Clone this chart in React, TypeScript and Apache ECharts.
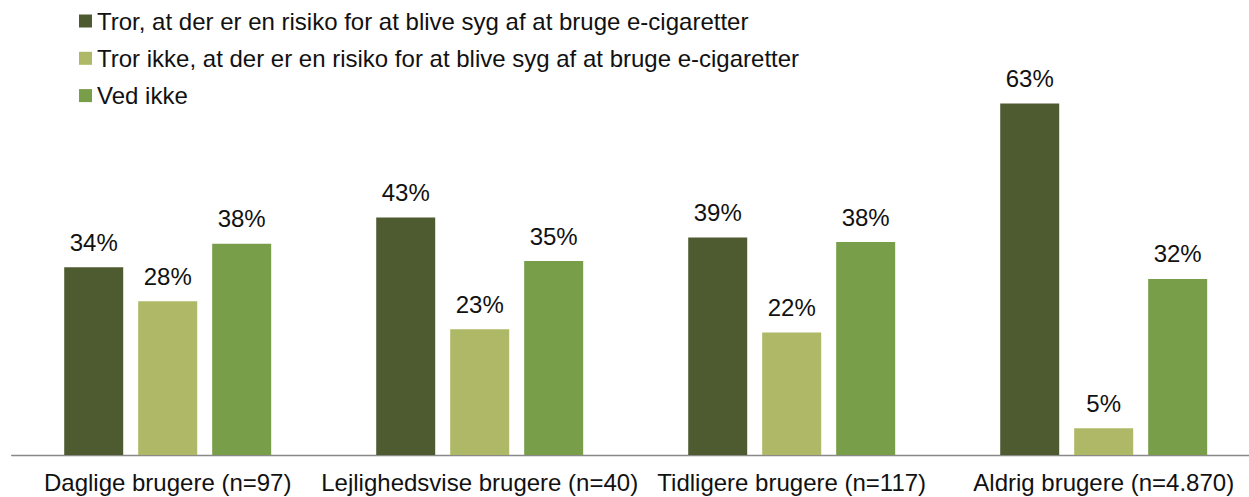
import React, { useEffect, useRef } from "react";
import * as echarts from "echarts";

const categories = [
  "Daglige brugere (n=97)",
  "Lejlighedsvise brugere (n=40)",
  "Tidligere brugere (n=117)",
  "Aldrig brugere (n=4.870)",
];
const seriesNames = [
  "Tror, at der er en risiko for at blive syg af at bruge e-cigaretter",
  "Tror ikke, at der er en risiko for at blive syg af at bruge e-cigaretter",
  "Ved ikke",
];
const troRisiko = [33.6, 42.5, 38.9, 62.9];
const troIkkeRisiko = [27.5, 22.5, 21.9, 4.8];
const vedIkke = [37.8, 34.7, 38.1, 31.5];
const colors = ["#4E5B31", "#AFB866", "#789E4A"];

const FONT = "'Liberation Sans', Arial, sans-serif";

export default function App() {
  const ref = useRef<HTMLDivElement>(null);
  useEffect(() => {
    if (!ref.current) return;
    const chart = echarts.init(ref.current, undefined, { renderer: "svg" });
    const data = [troRisiko, troIkkeRisiko, vedIkke];
    chart.setOption({
      animation: false,
      textStyle: { fontFamily: FONT },
      legend: {
        orient: "vertical",
        left: 79,
        top: 9,
        padding: 0,
        itemWidth: 13,
        itemHeight: 13,
        itemGap: 13.3,
        icon: "rect",
        textStyle: { fontSize: 24, lineHeight: 24, color: "#111", fontFamily: FONT },
        data: seriesNames,
      },
      grid: { left: 11.7, top: 63.7, width: 1248, height: 391.3 },
      xAxis: {
        type: "category",
        data: categories,
        axisLine: { lineStyle: { color: "#898989", width: 1.3 } },
        axisTick: { length: 7, lineStyle: { color: "#898989", width: 1.3 } },
        axisLabel: { fontSize: 24, color: "#111", margin: 15, fontFamily: FONT, interval: 0 },
      },
      yAxis: {
        type: "value",
        min: 0,
        max: 70,
        show: false,
        splitLine: { show: false },
      },
      series: seriesNames.map((name, i) => ({
        name,
        type: "bar",
        data: data[i],
        barWidth: 59,
        barGap: "25.4%",
        itemStyle: { color: colors[i] },
        label: {
          show: true,
          position: "top",
          distance: 13,
          fontSize: 24,
          color: "#111",
          fontFamily: FONT,
          formatter: (p: any) => Math.round(p.value) + "%",
        },
      })),
    });
    return () => chart.dispose();
  }, []);
  return (
    <div
      style={{
        position: "fixed",
        left: 0,
        top: 0,
        width: 1249,
        height: 497,
        overflow: "hidden",
        background: "#fff",
      }}
    >
      <div ref={ref} style={{ width: 1280, height: 497 }} />
    </div>
  );
}
